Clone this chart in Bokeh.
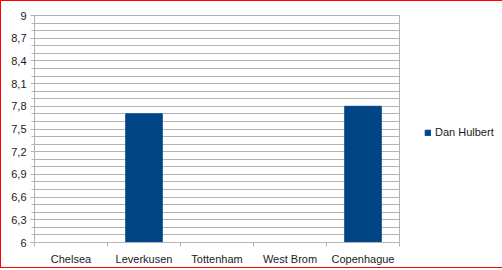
from bokeh.plotting import figure
from bokeh.models import Range1d, FixedTicker, Legend, LegendItem, ColumnDataSource
from bokeh.embed import file_html
from bokeh.resources import INLINE

teams = ["Chelsea", "Leverkusen", "Tottenham", "West Brom", "Copenhague"]
scores = [float("nan"), 7.7, float("nan"), float("nan"), 7.8]
series_name = "Dan Hulbert"
y_ticks = [6, 6.3, 6.6, 6.9, 7.2, 7.5, 7.8, 8.1, 8.4, 8.7, 9]
y_labels = ["6", "6,3", "6,6", "6,9", "7,2", "7,5", "7,8", "8,1", "8,4", "8,7", "9"]

FONT = "Liberation Sans"
TXT = "#1a1a1a"
GRID = "#b3b3b3"
BAR = "#004586"

xs = [i + 0.5 for i in range(len(teams))]
src = ColumnDataSource(dict(x=xs, top=scores, team=teams))

p = figure(frame_width=365, frame_height=227, output_backend="svg", toolbar_location=None,
           x_range=Range1d(0, len(teams)), y_range=Range1d(6, 9))
p.styles = {"border": "1px solid red"}
p.min_border_left = 33
p.min_border_right = 101
p.min_border_top = 14
p.min_border_bottom = 25
p.background_fill_color = "white"
p.border_fill_color = "white"
p.outline_line_color = GRID

r = p.vbar(x="x", top="top", bottom=6, width=0.5, source=src,
           fill_color=BAR, line_color=BAR)

# x axis
xa = p.xaxis[0]
xa.ticker = FixedTicker(ticks=xs, minor_ticks=list(range(len(teams) + 1)))
xa.major_label_overrides = {x: t for x, t in zip(xs, teams)}
xa.major_tick_out = 0
xa.major_tick_in = 0
xa.minor_tick_out = 4
xa.minor_tick_in = 0
xa.minor_tick_line_color = GRID
xa.axis_line_color = GRID
xa.major_label_standoff = 6
xa.major_label_text_font = FONT
xa.major_label_text_font_size = "11px"
xa.major_label_text_color = TXT

# y axis
ya = p.yaxis[0]
minor = [round(6 + 0.1 * i, 1) for i in range(31)]
ya.ticker = FixedTicker(ticks=y_ticks, minor_ticks=minor)
ya.major_label_overrides = {t: l for t, l in zip(y_ticks, y_labels)}
ya.major_tick_out = 4
ya.major_tick_in = 0
ya.minor_tick_out = 3
ya.minor_tick_in = 0
ya.major_tick_line_color = GRID
ya.minor_tick_line_color = GRID
ya.axis_line_color = GRID
ya.major_label_standoff = 4
ya.major_label_text_font = FONT
ya.major_label_text_font_size = "11px"
ya.major_label_text_color = TXT

p.xgrid.visible = False
p.ygrid.grid_line_color = GRID
p.ygrid.minor_grid_line_color = GRID

legend = Legend(items=[LegendItem(label=series_name, renderers=[r])],
                location=(25, 104), border_line_color=None,
                background_fill_alpha=0, glyph_width=7, glyph_height=7,
                label_standoff=4, padding=0, margin=0,
                label_text_font=FONT, label_text_font_size="11px",
                label_text_color=TXT)
p.add_layout(legend, "right")

open("out.html", "w").write(file_html(p, INLINE))
